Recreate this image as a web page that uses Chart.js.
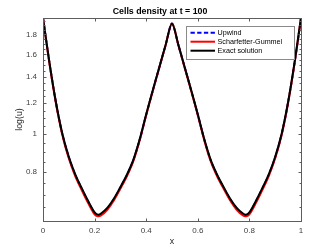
<!DOCTYPE html>
<html lang="en">
<head>
    <meta charset="UTF-8">
    <title>Cells density at t = 100</title>
    <style>
        body {
            margin: 0;
            padding: 0;
            background-color: white;
        }

        .chart-container {
            position: relative;
            width: 332px;
            height: 249px;
        }
    </style>
</head>
<body>

    <div class="chart-container">
        <canvas id="densityChart"></canvas>
    </div>

    <script src="https://cdn.jsdelivr.net/npm/chart.js"></script>
    <script>
        const chartTitle = 'Cells density at t = 100';

        // x positions of the samples
        const xs = [0, 0.025, 0.05, 0.075, 0.1, 0.125, 0.15, 0.175, 0.2, 0.2125, 0.225,
            0.25, 0.275, 0.3, 0.325, 0.35, 0.375, 0.4, 0.425, 0.45, 0.475, 0.5,
            0.525, 0.55, 0.575, 0.6, 0.625, 0.65, 0.675, 0.7, 0.725, 0.75, 0.775,
            0.7875, 0.8, 0.825, 0.85, 0.875, 0.9, 0.925, 0.95, 0.975, 1];

        // u values (log scale)
        const uUpwind = [1.983, 1.522, 1.206, 1.000, 0.873, 0.787, 0.725, 0.672, 0.628, 0.620, 0.624,
            0.646, 0.682, 0.730, 0.785, 0.857, 0.969, 1.122, 1.289, 1.476, 1.688, 1.919,
            1.688, 1.476, 1.289, 1.122, 0.969, 0.857, 0.785, 0.730, 0.682, 0.646, 0.624,
            0.620, 0.628, 0.672, 0.725, 0.787, 0.873, 1.000, 1.206, 1.522, 1.983];

        const uSG = [1.983, 1.519, 1.202, 0.996, 0.868, 0.782, 0.720, 0.667, 0.624, 0.617, 0.620,
            0.642, 0.678, 0.726, 0.781, 0.854, 0.966, 1.119, 1.287, 1.474, 1.687, 1.919,
            1.687, 1.474, 1.287, 1.119, 0.966, 0.854, 0.781, 0.726, 0.678, 0.642, 0.620,
            0.617, 0.624, 0.667, 0.720, 0.782, 0.868, 0.996, 1.202, 1.519, 1.983];

        const uExact = [1.983, 1.525, 1.209, 1.003, 0.876, 0.790, 0.728, 0.675, 0.631, 0.623, 0.627,
            0.649, 0.685, 0.733, 0.788, 0.860, 0.972, 1.125, 1.292, 1.478, 1.690, 1.919,
            1.690, 1.478, 1.292, 1.125, 0.972, 0.860, 0.788, 0.733, 0.685, 0.649, 0.627,
            0.623, 0.631, 0.675, 0.728, 0.790, 0.876, 1.003, 1.209, 1.525, 1.983];

        const xTicks = [0, 0.2, 0.4, 0.6, 0.8, 1];
        const yTicks = [0.8, 1, 1.2, 1.4, 1.6, 1.8];
        const yMin = 0.6228;
        const yMax = 1.983;

        const FONT = '"Liberation Sans", Arial, sans-serif';
        const AXIS_COLOR = '#5c5c5c';

        function toPoints(values) {
            return xs.map((x, i) => ({ x: x, y: values[i] }));
        }

        // matlab style box, inward ticks, title and legend
        const matlabPlugin = {
            id: 'matlabLook',
            afterDraw(chart) {
                const ctx = chart.ctx;
                const a = chart.chartArea;
                const xs_ = chart.scales.x;
                const ys_ = chart.scales.y;
                const L = Math.round(a.left) + 0.5;
                const R = Math.round(a.right) + 0.5;
                const T = Math.round(a.top) + 0.5;
                const B = Math.round(a.bottom) + 0.5;

                ctx.save();
                ctx.strokeStyle = AXIS_COLOR;
                ctx.lineWidth = 1;
                ctx.strokeRect(L, T, R - L, B - T);

                ctx.beginPath();
                xTicks.forEach(v => {
                    const px = Math.round(xs_.getPixelForValue(v)) + 0.5;
                    ctx.moveTo(px, B); ctx.lineTo(px, B - 3);
                    ctx.moveTo(px, T); ctx.lineTo(px, T + 3);
                });
                for (let k = 13; k <= 39; k++) {
                    const v = k * 0.05;
                    const major = yTicks.some(t => Math.abs(t - v) < 1e-6);
                    const len = major ? 3 : 2;
                    const py = Math.round(ys_.getPixelForValue(v)) + 0.5;
                    ctx.moveTo(L, py); ctx.lineTo(L + len, py);
                    ctx.moveTo(R, py); ctx.lineTo(R - len, py);
                }
                ctx.stroke();

                // title
                ctx.fillStyle = '#000';
                ctx.font = 'bold 8.8px ' + FONT;
                ctx.textAlign = 'center';
                ctx.textBaseline = 'middle';
                ctx.fillText(chartTitle, 160, 12);

                // legend
                const bx = 186.5, by = 26.5, bw = 108, bh = 33;
                ctx.fillStyle = '#fff';
                ctx.fillRect(bx, by, bw, bh);
                ctx.strokeStyle = '#8a8a8a';
                ctx.strokeRect(bx, by, bw, bh);
                ctx.font = '7.2px ' + FONT;
                ctx.textAlign = 'left';
                chart.data.datasets.forEach((ds, i) => {
                    const ry = 32.7 + i * 9;
                    ctx.strokeStyle = ds.borderColor;
                    ctx.lineWidth = ds.borderWidth;
                    ctx.setLineDash(ds.borderDash || []);
                    ctx.beginPath();
                    ctx.moveTo(190.5, ry);
                    ctx.lineTo(215, ry);
                    ctx.stroke();
                    ctx.setLineDash([]);
                    ctx.fillStyle = '#000';
                    ctx.fillText(ds.label, 217.5, ry + 0.5);
                });
                ctx.restore();
            }
        };

        const ctx = document.getElementById('densityChart').getContext('2d');
        const densityChart = new Chart(ctx, {
            type: 'line',
            data: {
                datasets: [{
                    label: 'Upwind',
                    data: toPoints(uUpwind),
                    borderColor: '#0000ff',
                    borderDash: [4.3, 2.4],
                    borderWidth: 2,
                    order: 2
                }, {
                    label: 'Scharfetter-Gummel',
                    data: toPoints(uSG),
                    borderColor: '#ff0000',
                    borderWidth: 2,
                    order: 1
                }, {
                    label: 'Exact solution',
                    data: toPoints(uExact),
                    borderColor: '#000000',
                    borderWidth: 2,
                    order: 0
                }]
            },
            options: {
                responsive: true,
                maintainAspectRatio: false,
                animation: false,
                events: [],
                elements: {
                    point: { radius: 0 },
                    line: { tension: 0.3 }
                },
                layout: {
                    padding: { left: 0, right: 31, top: 18, bottom: 0 }
                },
                plugins: {
                    legend: { display: false },
                    title: { display: false },
                    tooltip: { enabled: false }
                },
                scales: {
                    x: {
                        type: 'linear',
                        min: 0,
                        max: 1,
                        afterFit: s => { s.height = 28; },
                        afterBuildTicks: s => { s.ticks = xTicks.map(v => ({ value: v })); },
                        grid: { display: false, drawTicks: false },
                        border: { display: false },
                        ticks: {
                            color: '#404040',
                            padding: 5,
                            maxRotation: 0,
                            font: { family: FONT, size: 8 },
                            callback: v => String(v)
                        },
                        title: {
                            display: true,
                            text: 'x',
                            color: '#262626',
                            padding: { top: 0, bottom: 2.5 },
                            font: { family: FONT, size: 8.8 }
                        }
                    },
                    y: {
                        type: 'logarithmic',
                        min: yMin,
                        max: yMax,
                        afterFit: s => { s.width = 43; },
                        afterBuildTicks: s => { s.ticks = yTicks.map(v => ({ value: v })); },
                        grid: { display: false, drawTicks: false },
                        border: { display: false },
                        ticks: {
                            color: '#404040',
                            padding: 6,
                            font: { family: FONT, size: 8 },
                            callback: v => String(v)
                        },
                        title: {
                            display: true,
                            text: 'log(u)',
                            color: '#262626',
                            padding: { top: 14.5, bottom: 0 },
                            font: { family: FONT, size: 8.8 }
                        }
                    }
                }
            },
            plugins: [matlabPlugin]
        });
    </script>

</body>
</html>
